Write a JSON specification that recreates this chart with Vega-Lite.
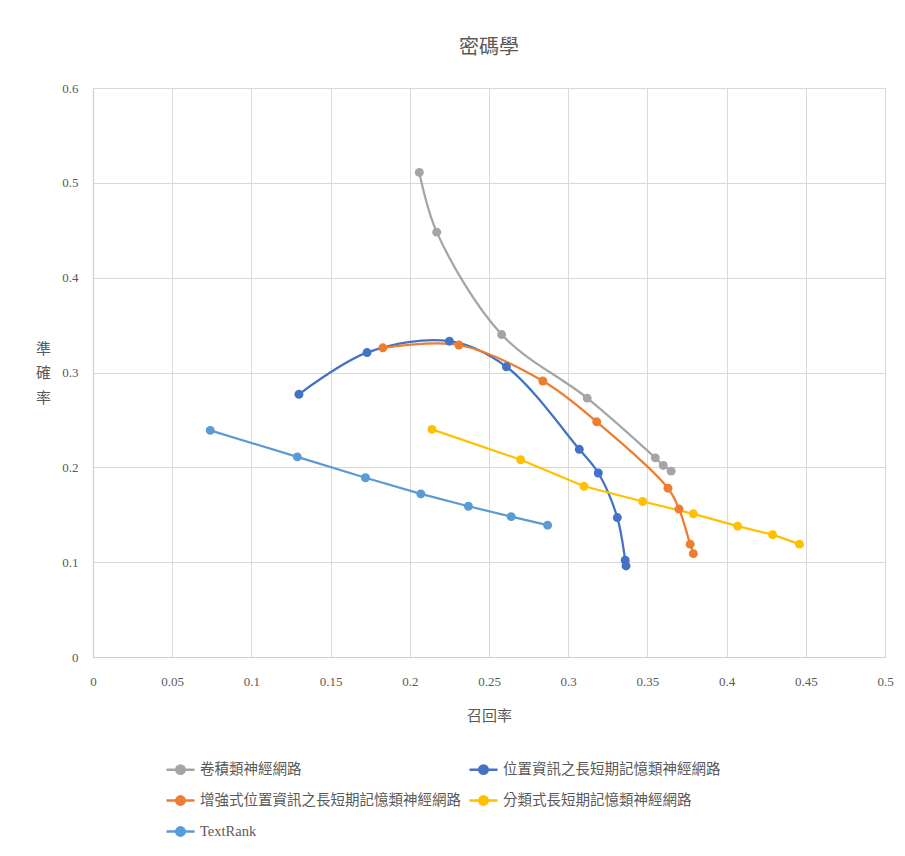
{
  "$schema": "https://vega.github.io/schema/vega-lite/v6.json",
  "autosize": "none",
  "width": 792,
  "height": 569,
  "padding": {"left": 93, "top": 88, "right": 20, "bottom": 199},
  "background": "white",
  "title": {
    "text": "密碼學",
    "fontSize": 20,
    "font": "Liberation Serif, Noto Sans CJK TC",
    "fontWeight": "normal",
    "color": "#595959",
    "anchor": "middle",
    "offset": 24
  },
  "config": {
    "view": {"stroke": null},
    "font": "Liberation Serif, Noto Sans CJK TC",
    "axis": {
      "labelFont": "Liberation Serif, Noto Sans CJK TC",
      "labelFontSize": 13,
      "labelColor": "#595959",
      "labelFlush": false,
      "titleFont": "Liberation Serif, Noto Sans CJK TC",
      "titleFontSize": 15,
      "titleFontWeight": "normal",
      "titleColor": "#595959",
      "gridColor": "#D9D9D9",
      "gridWidth": 1,
      "domainColor": "#CFCFCF",
      "domainWidth": 1.2,
      "ticks": false,
      "tickSize": 0
    },
    "legend": {
      "labelFont": "Liberation Serif, Noto Sans CJK TC",
      "labelFontSize": 14.5,
      "labelColor": "#595959",
      "labelLimit": 400
    }
  },
  "datasets": {
    "curves": [
      {"model": "卷積類神經網路", "recall": 0.206, "precision": 0.511},
      {"model": "卷積類神經網路", "recall": 0.217, "precision": 0.448},
      {"model": "卷積類神經網路", "recall": 0.258, "precision": 0.340},
      {"model": "卷積類神經網路", "recall": 0.312, "precision": 0.273},
      {"model": "卷積類神經網路", "recall": 0.355, "precision": 0.210},
      {"model": "卷積類神經網路", "recall": 0.360, "precision": 0.202},
      {"model": "卷積類神經網路", "recall": 0.365, "precision": 0.196},
      {"model": "位置資訊之長短期記憶類神經網路", "recall": 0.130, "precision": 0.277},
      {"model": "位置資訊之長短期記憶類神經網路", "recall": 0.173, "precision": 0.321},
      {"model": "位置資訊之長短期記憶類神經網路", "recall": 0.225, "precision": 0.333},
      {"model": "位置資訊之長短期記憶類神經網路", "recall": 0.261, "precision": 0.306},
      {"model": "位置資訊之長短期記憶類神經網路", "recall": 0.307, "precision": 0.219},
      {"model": "位置資訊之長短期記憶類神經網路", "recall": 0.319, "precision": 0.194},
      {"model": "位置資訊之長短期記憶類神經網路", "recall": 0.331, "precision": 0.147},
      {"model": "位置資訊之長短期記憶類神經網路", "recall": 0.336, "precision": 0.102},
      {"model": "位置資訊之長短期記憶類神經網路", "recall": 0.3365, "precision": 0.096},
      {"model": "增強式位置資訊之長短期記憶類神經網路", "recall": 0.183, "precision": 0.326},
      {"model": "增強式位置資訊之長短期記憶類神經網路", "recall": 0.231, "precision": 0.329},
      {"model": "增強式位置資訊之長短期記憶類神經網路", "recall": 0.284, "precision": 0.291},
      {"model": "增強式位置資訊之長短期記憶類神經網路", "recall": 0.318, "precision": 0.248},
      {"model": "增強式位置資訊之長短期記憶類神經網路", "recall": 0.363, "precision": 0.178},
      {"model": "增強式位置資訊之長短期記憶類神經網路", "recall": 0.370, "precision": 0.156},
      {"model": "增強式位置資訊之長短期記憶類神經網路", "recall": 0.377, "precision": 0.119},
      {"model": "增強式位置資訊之長短期記憶類神經網路", "recall": 0.379, "precision": 0.109},
      {"model": "分類式長短期記憶類神經網路", "recall": 0.214, "precision": 0.240},
      {"model": "分類式長短期記憶類神經網路", "recall": 0.270, "precision": 0.208},
      {"model": "分類式長短期記憶類神經網路", "recall": 0.310, "precision": 0.180},
      {"model": "分類式長短期記憶類神經網路", "recall": 0.347, "precision": 0.164},
      {"model": "分類式長短期記憶類神經網路", "recall": 0.379, "precision": 0.151},
      {"model": "分類式長短期記憶類神經網路", "recall": 0.407, "precision": 0.138},
      {"model": "分類式長短期記憶類神經網路", "recall": 0.429, "precision": 0.129},
      {"model": "分類式長短期記憶類神經網路", "recall": 0.446, "precision": 0.119},
      {"model": "TextRank", "recall": 0.074, "precision": 0.239},
      {"model": "TextRank", "recall": 0.129, "precision": 0.211},
      {"model": "TextRank", "recall": 0.172, "precision": 0.189},
      {"model": "TextRank", "recall": 0.207, "precision": 0.172},
      {"model": "TextRank", "recall": 0.237, "precision": 0.159},
      {"model": "TextRank", "recall": 0.264, "precision": 0.148},
      {"model": "TextRank", "recall": 0.287, "precision": 0.139}
    ]
  },
  "data": {"name": "curves"},
  "encoding": {
    "x": {
      "field": "recall",
      "type": "quantitative",
      "scale": {"domain": [0, 0.5], "nice": false},
      "axis": {
        "title": "召回率",
        "values": [0, 0.05, 0.1, 0.15, 0.2, 0.25, 0.3, 0.35, 0.4, 0.45, 0.5],
        "format": "~g",
        "labelPadding": 18,
        "titleY": 58,
        "titleBaseline": "middle"
      }
    },
    "y": {
      "field": "precision",
      "type": "quantitative",
      "scale": {"domain": [0, 0.6], "nice": false},
      "axis": {
        "title": ["準", "確", "率"],
        "values": [0, 0.1, 0.2, 0.3, 0.4, 0.5, 0.6],
        "format": "~g",
        "labelPadding": 15,
        "titleAngle": 0,
        "titleAlign": "center",
        "titleBaseline": "middle",
        "titleLineHeight": 24.5,
        "titleX": -50,
        "titleY": 260
      }
    },
    "color": {
      "field": "model",
      "type": "nominal",
      "scale": {
        "domain": ["卷積類神經網路", "位置資訊之長短期記憶類神經網路", "增強式位置資訊之長短期記憶類神經網路", "分類式長短期記憶類神經網路", "TextRank"],
        "range": ["#A5A5A5", "#4472C4", "#ED7D31", "#FFC000", "#5B9BD5"]
      },
      "legend": {
        "title": null,
        "orient": "none",
        "direction": "horizontal",
        "legendX": 72,
        "legendY": 666,
        "columns": 2,
        "columnPadding": 3,
        "rowPadding": 6,
        "padding": 0,
        "labelOffset": 4,
        "labelLimit": 400,
        "symbolType": "M-1,0L1,0M0.3,0A0.3,0.3,0,1,1,-0.3,0A0.3,0.3,0,1,1,0.3,0Z",
        "symbolSize": 784,
        "symbolStrokeWidth": 2.5,
        "symbolOpacity": 1,
        "encode": {
          "symbols": {
            "update": {
              "stroke": {"scale": "color", "field": "value"},
              "fill": {"scale": "color", "field": "value"}
            }
          }
        }
      }
    }
  },
  "layer": [
    {
      "transform": [{"filter": "datum.model === '卷積類神經網路' || datum.model === '位置資訊之長短期記憶類神經網路' || datum.model === '增強式位置資訊之長短期記憶類神經網路'"}],
      "mark": {"type": "line", "interpolate": "catmull-rom", "strokeWidth": 2.25}
    },
    {
      "transform": [{"filter": "datum.model === '分類式長短期記憶類神經網路' || datum.model === 'TextRank'"}],
      "mark": {"type": "line", "strokeWidth": 2.25}
    },
    {
      "mark": {"type": "point", "filled": true, "opacity": 1, "size": 80, "shape": "circle"}
    }
  ]
}
